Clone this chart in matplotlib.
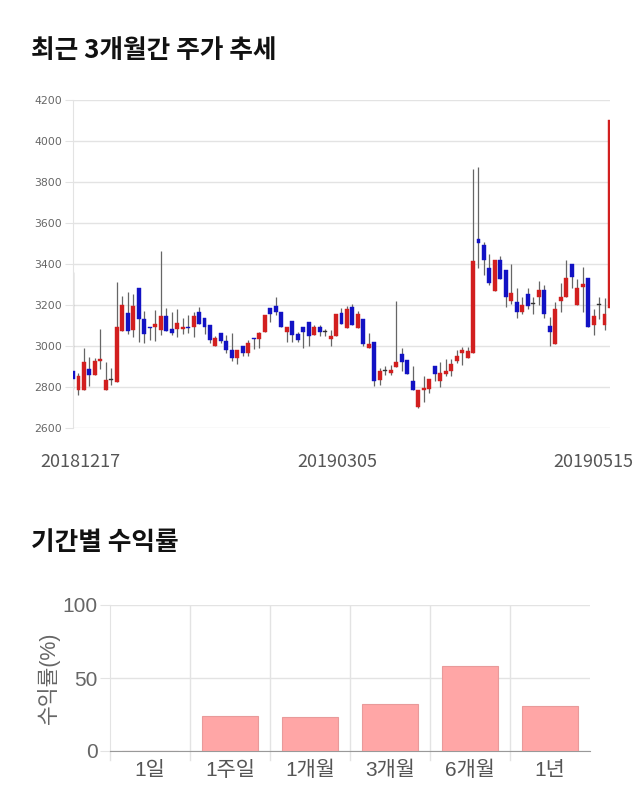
import matplotlib
matplotlib.use("Agg")
import matplotlib.pyplot as plt
import numpy as np

plt.rcParams['font.family'] = ['Noto Sans CJK KR', 'DejaVu Sans']

opens = [2878, 2785, 2785, 2888, 2859, 2927, 2785, 2834, 2824, 3073,
         3161, 3078, 3283, 3132, 3090, 3093, 3078, 3146, 3083, 3083,
         3083, 3092, 3093, 3166, 3137, 3102, 3000, 3063, 3024, 2980,
         2941, 3000, 2966, 3036, 3034, 3068, 3185, 3195, 3166, 3068,
         3122, 3058, 3093, 3117, 3054, 3093, 3068, 3034, 3049, 3161,
         3088, 3190, 3088, 3132, 2990, 3020, 2834, 2878, 2868, 2898,
         2961, 2932, 2829, 2702, 2785, 2790, 2902, 2829, 2863, 2878,
         2927, 2966, 2941, 2966, 3522, 3493, 3380, 3268, 3420, 3371,
         3220, 3215, 3166, 3254, 3205, 3239, 3273, 3098, 3010, 3220,
         3239, 3400, 3200, 3288, 3332, 3102, 3200, 3102, 3185]
highs = [3360, 2870, 2990, 2946, 2941, 3083, 2922, 2893, 3312, 3244,
         3263, 3254, 3283, 3171, 3093, 3176, 3463, 3185, 3166, 3180,
         3137, 3151, 3166, 3190, 3137, 3102, 3049, 3063, 3054, 3063,
         2980, 3000, 3029, 3039, 3068, 3151, 3185, 3239, 3166, 3093,
         3122, 3068, 3093, 3117, 3102, 3102, 3083, 3078, 3156, 3185,
         3195, 3205, 3170, 3132, 3063, 3020, 2893, 2902, 2907, 3220,
         2990, 2932, 2902, 2785, 2854, 2839, 2902, 2922, 2937, 2937,
         2980, 2995, 2995, 3863, 3873, 3507, 3449, 3420, 3439, 3371,
         3400, 3283, 3239, 3283, 3239, 3317, 3297, 3141, 3215, 3307,
         3420, 3400, 3327, 3385, 3332, 3180, 3239, 3234, 4102]
lows = [2790, 2761, 2785, 2805, 2859, 2888, 2785, 2810, 2824, 3073,
        3058, 3044, 3020, 3015, 3029, 3024, 3054, 3073, 3054, 3044,
        3059, 3063, 3044, 3107, 3059, 3015, 3000, 3015, 2966, 2927,
        2912, 2951, 2951, 2985, 2990, 3068, 3117, 3151, 3093, 3020,
        3020, 3020, 2990, 3000, 3054, 3049, 3049, 3000, 3049, 3107,
        3088, 3102, 3088, 3000, 2990, 2805, 2810, 2859, 2859, 2898,
        2878, 2863, 2785, 2698, 2727, 2770, 2829, 2800, 2854, 2854,
        2917, 2907, 2941, 2966, 3380, 3346, 3297, 3268, 3327, 3190,
        3205, 3137, 3156, 3180, 3156, 3200, 3137, 3000, 3010, 3166,
        3239, 3283, 3200, 3166, 3093, 3054, 3132, 3078, 3185]
closes = [2839, 2854, 2922, 2859, 2927, 2937, 2834, 2834, 3093, 3200,
          3073, 3195, 3132, 3058, 3088, 3107, 3146, 3073, 3063, 3112,
          3093, 3090, 3146, 3107, 3093, 3029, 3039, 3024, 2980, 2941,
          2980, 2966, 3015, 3034, 3063, 3151, 3156, 3166, 3093, 3093,
          3054, 3029, 3068, 3049, 3093, 3068, 3068, 3049, 3156, 3107,
          3180, 3102, 3156, 3010, 3010, 2829, 2878, 2878, 2883, 2922,
          2922, 2863, 2785, 2785, 2795, 2839, 2863, 2868, 2878, 2912,
          2951, 2980, 2976, 3415, 3502, 3420, 3307, 3420, 3327, 3239,
          3259, 3166, 3200, 3195, 3205, 3273, 3156, 3068, 3180, 3239,
          3332, 3337, 3283, 3302, 3093, 3146, 3200, 3156, 4102]

date_labels = ['20181217', '20190305', '20190515']
date_label_pos = [1.3, 48.3, 95.0]
price_ticks = [2600, 2800, 3000, 3200, 3400, 3600, 3800, 4000, 4200]

periods = ['1일', '1주일', '1개월', '3개월', '6개월', '1년']
returns = [0.0, 24.1, 23.0, 32.3, 58.5, 30.7]

RED = '#d21f1f'
BLUE = '#1212c4'
GRID = '#e3e3e3'
BAR_FONT = ['Liberation Sans', 'Noto Sans CJK KR']

fig = plt.figure(figsize=(6.4, 8.1), dpi=100)

fig.text(31/640, 1-50/810, '최근 3개월간 주가 추세', fontsize=18.5, fontweight='bold',
         color='#111111', va='center', ha='left')
fig.text(31/640, 1-543/810, '기간별 수익률', fontsize=18.5, fontweight='bold',
         color='#111111', va='center', ha='left')

# candlestick
ax = fig.add_axes([73/640, 1-428/810, 537/640, 328/810])
n = len(opens)
for i in range(n):
    o, h, l, c = opens[i], highs[i], lows[i], closes[i]
    if c > o:
        col = RED
    elif c < o:
        col = BLUE
    else:
        col = '#333333'
    ax.vlines(i, l, h, color='#666666', linewidth=0.9, zorder=2)
    bot = min(o, c)
    hgt = max(abs(c - o), 5)
    ax.bar(i, hgt, bottom=bot, width=0.72, color=col, edgecolor=col,
           linewidth=0.3, zorder=3)

ax.set_xlim(0, n - 1)
ax.set_ylim(2600, 4200)
ax.set_yticks(price_ticks)
ax.set_yticklabels([str(t) for t in price_ticks], fontsize=7.8, color='#666666',
                   family=['DejaVu Sans'])
ax.set_xticks(date_label_pos)
ax.set_xticklabels(date_labels, fontsize=13, color='#555555')
ax.tick_params(axis='x', length=0, pad=18)
ax.tick_params(axis='y', length=6, color=GRID, pad=2)
ax.grid(axis='y', color=GRID, linewidth=1)
for s in ['top', 'right', 'bottom']:
    ax.spines[s].set_visible(False)
ax.spines['left'].set_color(GRID)
ax.set_axisbelow(True)

# returns bar chart
bx = fig.add_axes([110/640, 1-751/810, 480/640, 146/810])
bx.bar(np.arange(len(periods)), returns, width=0.7, color='#ffa6a6',
       edgecolor='#e89a9a', linewidth=0.8, zorder=3)
bx.set_xlim(-0.5, len(periods) - 0.5)
bx.set_ylim(0, 100)
bx.set_yticks([0, 50, 100])
bx.set_yticklabels(['0', '50', '100'], fontsize=15, color='#666666', family=BAR_FONT)
bx.set_xticks(np.arange(len(periods)))
bx.set_xticklabels(periods, fontsize=15, color='#555555', family=BAR_FONT)
bx.tick_params(axis='x', length=0, pad=7)
bx.tick_params(axis='y', length=7, color=GRID, pad=2)
bx.grid(axis='y', color=GRID, linewidth=1, zorder=0)
for b in np.arange(len(periods) - 1) + 0.5:
    bx.axvline(b, color=GRID, linewidth=1, zorder=0)
    bx.plot([b, b], [0, -0.06], transform=bx.get_xaxis_transform(),
            color=GRID, linewidth=1, clip_on=False)
bx.plot([-0.5, -0.5], [0, -0.06], transform=bx.get_xaxis_transform(),
        color=GRID, linewidth=1, clip_on=False)
bx.set_ylabel('수익률(%)', fontsize=15.5, color='#666666', labelpad=2, family=BAR_FONT)
for s in ['top', 'right']:
    bx.spines[s].set_visible(False)
bx.spines['left'].set_color(GRID)
bx.spines['bottom'].set_color('#999999')
bx.set_axisbelow(True)

fig.savefig('out.png', dpi=100, facecolor='white')
